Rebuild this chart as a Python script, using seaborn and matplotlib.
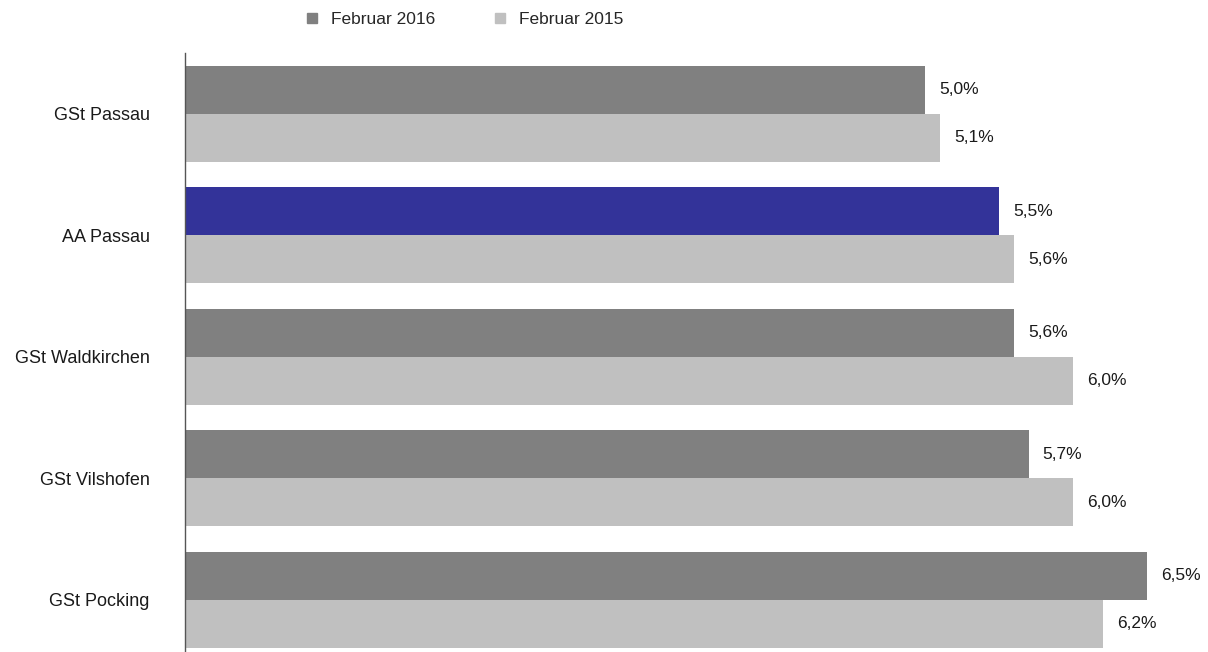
import matplotlib

matplotlib.use("Agg", force=True)
import matplotlib.pyplot as plt
from matplotlib.lines import Line2D
import pandas as pd
import seaborn as sns

regions = ["GSt Passau", "AA Passau", "GSt Waldkirchen", "GSt Vilshofen", "GSt Pocking"]
feb_2016 = [5.0, 5.5, 5.6, 5.7, 6.5]
feb_2015 = [5.1, 5.6, 6.0, 6.0, 6.2]
series = ["Februar 2016", "Februar 2015"]

DARK = "#808080"
LIGHT = "#c0c0c0"
HIGHLIGHT = "#333399"


def build_frame() -> pd.DataFrame:
    rows = []
    for name, v16, v15 in zip(regions, feb_2016, feb_2015):
        rows.append({"region": name, "period": series[0], "value": v16})
        rows.append({"region": name, "period": series[1], "value": v15})
    return pd.DataFrame(rows)


def main() -> None:
    sns.set_theme(style="white")
    plt.rcParams["font.family"] = ["Liberation Sans", "DejaVu Sans"]

    df = build_frame()
    fig = plt.figure(figsize=(12.08, 6.52), dpi=100)
    # axes run a little past the bottom edge, like the original export
    top_px, bottom_px = 53, 660.75
    ax = fig.add_axes([185 / 1208, (652 - bottom_px) / 652, 1 - 185 / 1208, (bottom_px - top_px) / 652])

    sns.barplot(
        data=df, y="region", x="value", hue="period", order=regions, hue_order=series,
        palette=[DARK, LIGHT], width=0.79, orient="h", ax=ax, legend=False,
        saturation=1, linewidth=0,
    )

    # AA Passau current month is highlighted
    first = ax.containers[0]
    first.patches[regions.index("AA Passau")].set_facecolor(HIGHLIGHT)

    for cont in ax.containers:
        for patch in cont.patches:
            w = patch.get_width()
            y = patch.get_y() + patch.get_height() / 2
            ax.annotate(f"{w:.1f}%".replace(".", ","), (w, y), xytext=(10, 0),
                        textcoords="offset points", ha="left", va="center",
                        fontsize=12.5, color="#1a1a1a")

    ax.set_xlim(0, 6.91)
    ax.set_ylim(4.5, -0.5)
    ax.set_xlabel("")
    ax.set_ylabel("")
    ax.set_xticks([])
    ax.tick_params(axis="y", length=0, pad=25.5, labelsize=13, labelcolor="#1a1a1a")
    for side in ["top", "right", "bottom"]:
        ax.spines[side].set_visible(False)
    ax.spines["left"].set_color("#555555")
    ax.spines["left"].set_linewidth(1.0)

    handles = [
        Line2D([], [], marker="s", linestyle="", markersize=7.5, color=DARK, label=series[0]),
        Line2D([], [], marker="s", linestyle="", markersize=7.5, color=LIGHT, label=series[1]),
    ]
    fig.legend(handles=handles, loc="center left", bbox_to_anchor=(288 / 1208, 1 - 19 / 652),
               ncol=2, frameon=False, fontsize=12.5, handletextpad=0.6, columnspacing=3.2,
               handlelength=1.0)

    fig.savefig("out.png", dpi=100)
    plt.close(fig)


if __name__ == "__main__":
    main()
